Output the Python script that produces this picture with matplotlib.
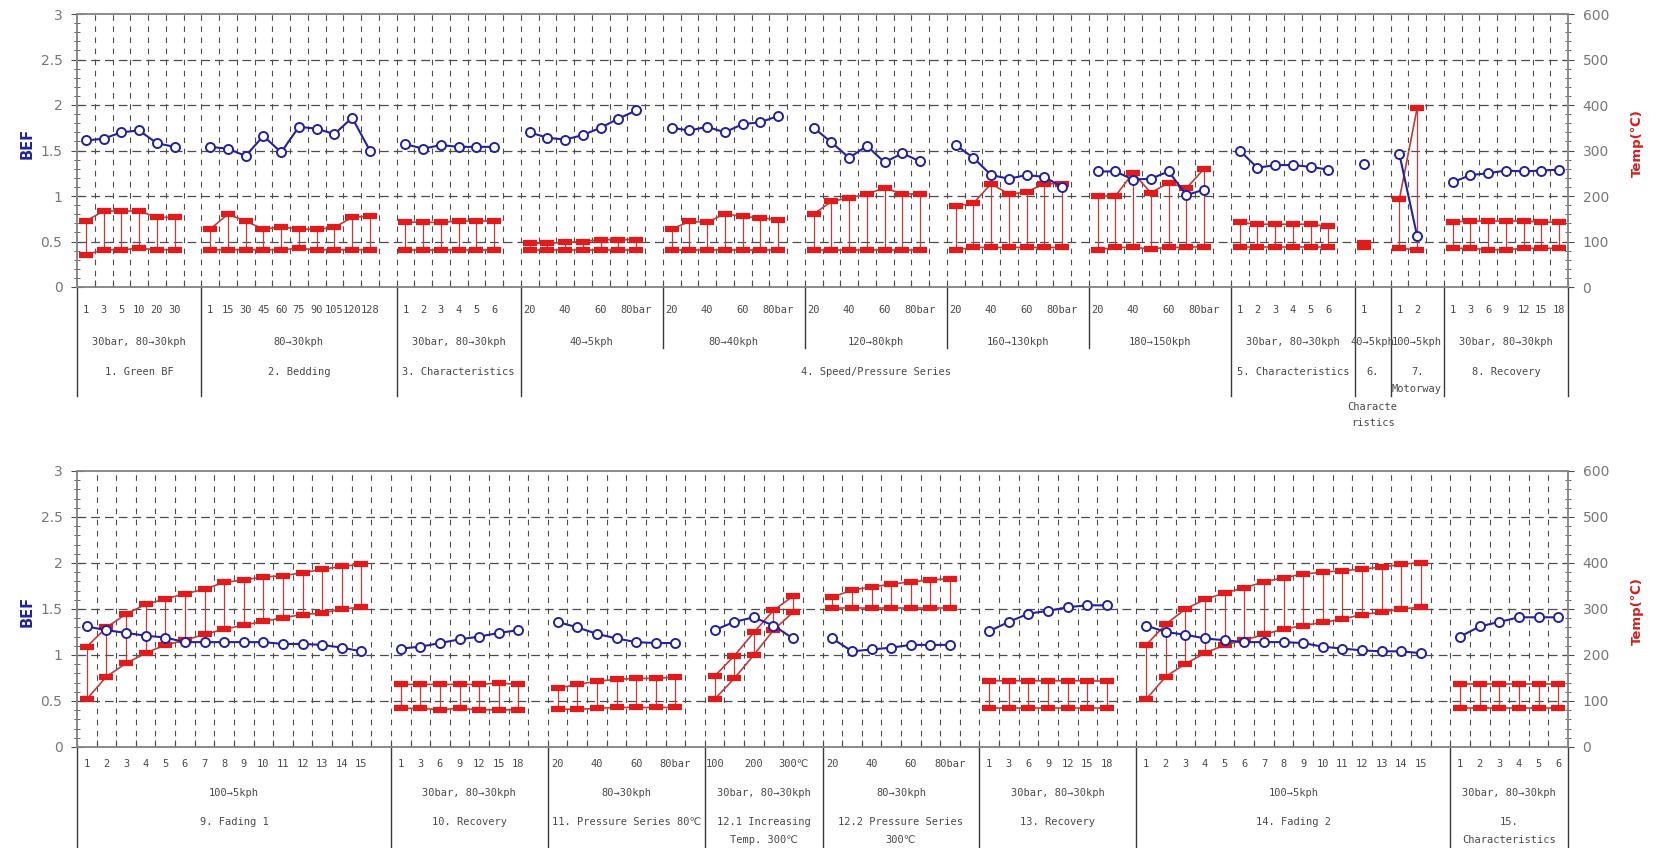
import matplotlib
matplotlib.use("Agg")
import matplotlib.pyplot as plt
from matplotlib.ticker import MultipleLocator, NullFormatter
from matplotlib.transforms import blended_transform_factory

BLUE = "#23239c"
RED = "#e11a1c"
RED_LINE = "#c23b3b"
GRID = "#4d4d4d"
AXIS = "#8a8a8a"
TEXT = "#4a4a4a"
MONO = ["DejaVu Sans Mono", "DejaVu Sans"]

BAR_X = ["20", "", "40", "", "60", "", "80bar"]

# ---------------- upper chart ----------------
G1_X = ["1", "3", "5", "10", "20", "30"]
G1_BEF = [1.61, 1.63, 1.70, 1.72, 1.58, 1.54]
G1_TMAX = [145, 167, 167, 167, 153, 153]
G1_TMIN = [71, 82, 82, 85, 82, 82]

G2_X = ["1", "15", "30", "45", "60", "75", "90", "105", "120", "128"]
G2_BEF = [1.54, 1.52, 1.44, 1.66, 1.48, 1.76, 1.74, 1.68, 1.86, 1.50]
G2_TMAX = [127, 160, 145, 127, 132, 127, 127, 131, 153, 156]
G2_TMIN = [82, 82, 82, 82, 82, 85, 82, 82, 82, 82]

G3_X = ["1", "2", "3", "4", "5", "6"]
G3_BEF = [1.57, 1.52, 1.56, 1.54, 1.54, 1.54]
G3_TMAX = [143, 142, 142, 145, 145, 145]
G3_TMIN = [82, 82, 82, 82, 82, 82]

G4A_BEF = [1.70, 1.64, 1.62, 1.67, 1.75, 1.85, 1.94]
G4A_TMAX = [96, 96, 98, 100, 104, 104, 104]
G4A_TMIN = [82, 82, 82, 82, 82, 82, 82]

G4B_BEF = [1.75, 1.72, 1.76, 1.70, 1.79, 1.81, 1.88]
G4B_TMAX = [127, 144, 142, 161, 155, 152, 148]
G4B_TMIN = [82, 82, 82, 82, 82, 82, 82]

G4C_BEF = [1.75, 1.59, 1.42, 1.55, 1.37, 1.47, 1.38]
G4C_TMAX = [160, 188, 196, 204, 218, 204, 205]
G4C_TMIN = [82, 82, 82, 82, 82, 82, 82]

G4D_BEF = [1.56, 1.42, 1.23, 1.19, 1.23, 1.21, 1.10]
G4D_TMAX = [178, 184, 227, 204, 209, 227, 227]
G4D_TMIN = [82, 87, 87, 87, 87, 87, 87]

G4E_BEF = [1.27, 1.27, 1.18, 1.19, 1.27, 1.01, 1.07]
G4E_TMAX = [200, 200, 251, 207, 229, 217, 260]
G4E_TMIN = [82, 87, 87, 84, 87, 87, 89]

G5_X = ["1", "2", "3", "4", "5", "6"]
G5_BEF = [1.50, 1.31, 1.34, 1.34, 1.32, 1.29]
G5_TMAX = [142, 138, 138, 138, 138, 133]
G5_TMIN = [87, 87, 87, 87, 87, 87]

G6_X = ["1"]
G6_BEF = [1.35]
G6_TMAX = [96]
G6_TMIN = [88]

G7_X = ["1", "2"]
G7_BEF = [1.46, 0.56]
G7_TMAX = [193, 393]
G7_TMIN = [85, 82]

G8_X = ["1", "3", "6", "9", "12", "15", "18"]
G8_BEF = [1.15, 1.23, 1.25, 1.28, 1.27, 1.28, 1.29]
G8_TMAX = [143, 145, 145, 145, 145, 143, 142]
G8_TMIN = [85, 85, 82, 82, 85, 85, 85]

# ---------------- lower chart ----------------
G9_X = [str(i) for i in range(1, 16)]
G9_BEF = [1.31, 1.27, 1.24, 1.21, 1.19, 1.14, 1.14, 1.14, 1.14, 1.14, 1.12, 1.12, 1.11, 1.08, 1.04]
G9_TMAX = [218, 260, 289, 310, 322, 333, 343, 358, 363, 370, 372, 379, 386, 393, 397]
G9_TMIN = [104, 153, 182, 204, 222, 232, 245, 256, 265, 273, 281, 288, 291, 300, 304]

G10_X = ["1", "3", "6", "9", "12", "15", "18"]
G10_BEF = [1.07, 1.09, 1.13, 1.17, 1.20, 1.24, 1.27]
G10_TMAX = [136, 136, 136, 136, 136, 139, 136]
G10_TMIN = [84, 84, 81, 84, 81, 81, 81]

G11_BEF = [1.36, 1.30, 1.23, 1.18, 1.14, 1.13, 1.13]
G11_TMAX = [128, 136, 143, 147, 149, 149, 152]
G11_TMIN = [82, 82, 84, 86, 86, 86, 86]

G121_X = ["100", "", "200", "", "300℃"]
G121_BEF = [1.27, 1.36, 1.41, 1.32, 1.18]
G121_TMAX = [154, 198, 249, 297, 328]
G121_TMIN = [104, 149, 200, 254, 293]

G122_BEF = [1.18, 1.04, 1.06, 1.08, 1.11, 1.11, 1.11]
G122_TMAX = [326, 341, 348, 354, 359, 363, 366]
G122_TMIN = [302, 302, 302, 302, 302, 302, 302]

G13_X = ["1", "3", "6", "9", "12", "15", "18"]
G13_BEF = [1.26, 1.36, 1.45, 1.48, 1.52, 1.54, 1.54]
G13_TMAX = [144, 144, 144, 144, 144, 144, 143]
G13_TMIN = [84, 84, 84, 84, 84, 84, 84]

G14_X = [str(i) for i in range(1, 16)]
G14_BEF = [1.32, 1.25, 1.22, 1.18, 1.16, 1.14, 1.14, 1.14, 1.13, 1.09, 1.07, 1.05, 1.04, 1.04, 1.02]
G14_TMAX = [222, 267, 300, 321, 335, 346, 359, 368, 376, 380, 383, 387, 391, 397, 401]
G14_TMIN = [104, 153, 181, 204, 222, 232, 245, 256, 264, 271, 278, 288, 293, 300, 304]

G15_X = ["1", "2", "3", "4", "5", "6"]
G15_BEF = [1.20, 1.31, 1.36, 1.41, 1.41, 1.41]
G15_TMAX = [136, 136, 136, 136, 136, 136]
G15_TMIN = [84, 84, 84, 84, 84, 84]


def group(slots, xlab, sub, bef, tmax, tmin):
    return dict(slots=slots, xlab=xlab, sub=sub, bef=bef, tmax=tmax, tmin=tmin)


upper_groups = [
    group(7, G1_X, "30bar, 80→30kph", G1_BEF, G1_TMAX, G1_TMIN),
    group(11, G2_X, "80→30kph", G2_BEF, G2_TMAX, G2_TMIN),
    group(7, G3_X, "30bar, 80→30kph", G3_BEF, G3_TMAX, G3_TMIN),
    group(8, BAR_X, "40→5kph", G4A_BEF, G4A_TMAX, G4A_TMIN),
    group(8, BAR_X, "80→40kph", G4B_BEF, G4B_TMAX, G4B_TMIN),
    group(8, BAR_X, "120→80kph", G4C_BEF, G4C_TMAX, G4C_TMIN),
    group(8, BAR_X, "160→130kph", G4D_BEF, G4D_TMAX, G4D_TMIN),
    group(8, BAR_X, "180→150kph", G4E_BEF, G4E_TMAX, G4E_TMIN),
    group(7, G5_X, "30bar, 80→30kph", G5_BEF, G5_TMAX, G5_TMIN),
    group(2, G6_X, "40→5kph", G6_BEF, G6_TMAX, G6_TMIN),
    group(3, G7_X, "100→5kph", G7_BEF, G7_TMAX, G7_TMIN),
    group(7, G8_X, "30bar, 80→30kph", G8_BEF, G8_TMAX, G8_TMIN),
]
# (first group, last group, [(text, row offset)])
upper_spans = [
    (0, 0, [("1. Green BF", 0)]),
    (1, 1, [("2. Bedding", 0)]),
    (2, 2, [("3. Characteristics", 0)]),
    (3, 7, [("4. Speed/Pressure Series", 0)]),
    (8, 8, [("5. Characteristics", 0)]),
    (9, 9, [("6.", 0), ("Characte", -0.129), ("ristics", -0.187)]),
    (10, 10, [("7.", 0), ("Motorway", -0.063)]),
    (11, 11, [("8. Recovery", 0)]),
]

lower_groups = [
    group(16, G9_X, "100→5kph", G9_BEF, G9_TMAX, G9_TMIN),
    group(8, G10_X, "30bar, 80→30kph", G10_BEF, G10_TMAX, G10_TMIN),
    group(8, BAR_X, "80→30kph", G11_BEF, G11_TMAX, G11_TMIN),
    group(6, G121_X, "30bar, 80→30kph", G121_BEF, G121_TMAX, G121_TMIN),
    group(8, BAR_X, "80→30kph", G122_BEF, G122_TMAX, G122_TMIN),
    group(8, G13_X, "30bar, 80→30kph", G13_BEF, G13_TMAX, G13_TMIN),
    group(16, G14_X, "100→5kph", G14_BEF, G14_TMAX, G14_TMIN),
    group(6, G15_X, "30bar, 80→30kph", G15_BEF, G15_TMAX, G15_TMIN),
]
lower_spans = [
    (0, 0, [("9. Fading 1", 0)]),
    (1, 1, [("10. Recovery", 0)]),
    (2, 2, [("11. Pressure Series 80℃", 0)]),
    (3, 3, [("12.1 Increasing", 0), ("Temp. 300℃", -0.065)]),
    (4, 4, [("12.2 Pressure Series", 0), ("300℃", -0.065)]),
    (5, 5, [("13. Recovery", 0)]),
    (6, 6, [("14. Fading 2", 0)]),
    (7, 7, [("15.", 0), ("Characteristics", -0.065)]),
]


def draw_panel(fig, rect, groups, spans, rows, deep, shallow):
    ax = fig.add_axes(rect)
    ax_t = ax.twinx()
    ax.set_zorder(ax_t.get_zorder() + 1)
    ax.patch.set_visible(False)

    starts, total = [], 0
    for g in groups:
        starts.append(total)
        total += g["slots"]

    ax.set_xlim(0, total)
    ax.set_ylim(0, 3)
    ax_t.set_ylim(0, 600)

    # dashed grid on the temperature axes, underneath everything else
    ax_t.hlines(range(100, 600, 100), 0, total, colors=GRID, lw=0.9,
                linestyles=(0, (7, 4)), zorder=0)
    ax_t.vlines(range(1, total), 0, 600, colors=GRID, lw=0.8,
                linestyles=(0, (5, 5)), zorder=0)

    for g, start in zip(groups, starts):
        xs = [start + i + 0.5 for i in range(len(g["bef"]))]
        ax_t.vlines(xs, g["tmin"], g["tmax"], colors=RED_LINE, lw=0.9, zorder=2)
        for temps in (g["tmin"], g["tmax"]):
            ax_t.plot(xs, temps, color=RED_LINE, lw=1.2, marker="_", ms=10,
                      mew=4.5, mec=RED, zorder=3)
        ax.plot(xs, g["bef"], color=BLUE, lw=1.5, marker="o", ms=6.5,
                mfc="white", mec=BLUE, mew=1.4, zorder=4)

    # axes styling
    for a in (ax, ax_t):
        for sp in a.spines.values():
            sp.set_color(AXIS)
            sp.set_linewidth(1.2)
    ax.set_xticks(range(total + 1))
    ax.xaxis.set_major_formatter(NullFormatter())
    ax.tick_params(axis="x", direction="in", length=5, color=GRID, width=0.8)
    ax.yaxis.set_major_locator(MultipleLocator(0.5))
    ax.yaxis.set_minor_locator(MultipleLocator(0.1))
    ax.set_yticks([0, 0.5, 1, 1.5, 2, 2.5, 3])
    ax.set_yticklabels(["0", "0.5", "1", "1.5", "2", "2.5", "3"])
    ax.tick_params(axis="y", which="major", direction="inout", length=9,
                   color=GRID, labelcolor="#777777", labelsize=10, pad=6)
    ax.tick_params(axis="y", which="minor", direction="inout", length=5, color=GRID)
    ax_t.yaxis.set_major_locator(MultipleLocator(100))
    ax_t.yaxis.set_minor_locator(MultipleLocator(20))
    ax_t.tick_params(axis="y", which="major", direction="inout", length=9,
                     color=GRID, labelcolor="#777777", labelsize=10, pad=6)
    ax_t.tick_params(axis="y", which="minor", direction="inout", length=5, color=GRID)

    # category table below the plot
    trans = blended_transform_factory(ax.transData, ax.transAxes)
    txt = dict(transform=trans, ha="center", va="center", fontsize=7.5,
               family=MONO, color=TEXT, clip_on=False)
    for g, start in zip(groups, starts):
        for i, lab in enumerate(g["xlab"]):
            if lab:
                ax.text(start + i + 0.5, rows[0], lab, **txt)
        ax.text(start + g["slots"] / 2, rows[1], g["sub"], **txt)

    line = dict(transform=trans, color="#3a3a3a", lw=1.0, clip_on=False)
    for first, last, lines in spans:
        x0 = starts[first]
        x1 = starts[last] + groups[last]["slots"]
        for text, dy in lines:
            ax.text((x0 + x1) / 2, rows[2] + dy, text, **txt)
        ax.plot([x0, x0], [0, deep], **line)
        for k in range(first + 1, last + 1):
            ax.plot([starts[k], starts[k]], [0, shallow], **line)
    ax.plot([total, total], [0, deep], **line)
    return ax, ax_t


fig = plt.figure(figsize=(16.67, 8.48), dpi=100)
fig.patch.set_facecolor("white")

W, H = 1667.0, 848.0
left, right = 77 / W, 1568 / W

draw_panel(fig, [left, 1 - 287 / H, right - left, 273 / H],
           upper_groups, upper_spans, rows=(-0.084, -0.201, -0.311),
           deep=-0.40, shallow=-0.223)
draw_panel(fig, [left, 1 - 747 / H, right - left, 276 / H],
           lower_groups, lower_spans, rows=(-0.062, -0.167, -0.272),
           deep=-0.37, shallow=-0.37)

for yc in (143, 611):
    fig.text(27 / W, 1 - yc / H, "BEF", rotation=90, color=BLUE,
             fontsize=10.5, fontweight="bold", ha="center", va="center")
    fig.text(1637 / W, 1 - yc / H, "Temp(℃)", rotation=90, color="#d02020",
             fontsize=9.5, fontweight="bold", ha="center", va="center")

fig.savefig("out.png", dpi=100)
